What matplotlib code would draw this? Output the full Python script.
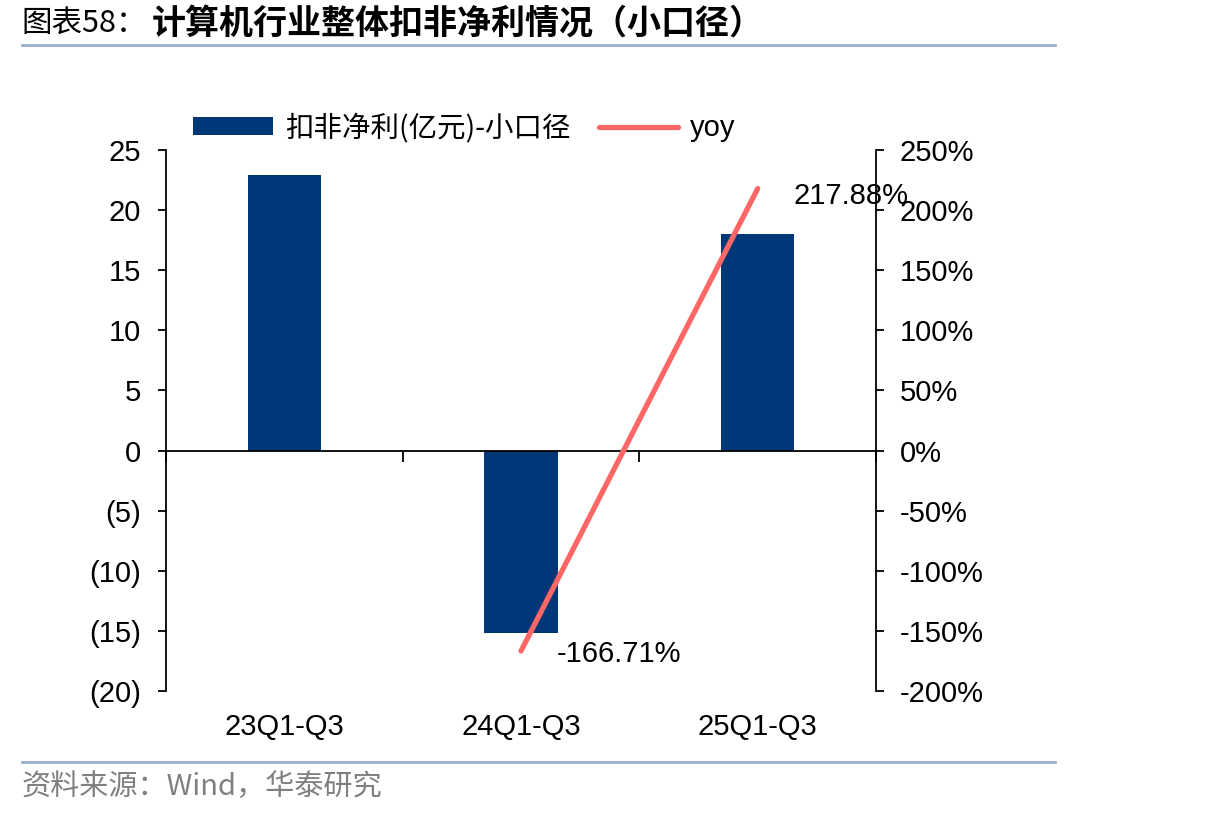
import numpy as np
import matplotlib
matplotlib.use("Agg")
import matplotlib.pyplot as plt
from matplotlib.ticker import FuncFormatter, FixedLocator

plt.rcParams['font.family'] = ['Liberation Sans', 'Noto Sans CJK SC', 'DejaVu Sans']

# ------------------ Datos ------------------
categorias = ['23Q1-Q3', '24Q1-Q3', '25Q1-Q3']
beneficio = [22.9, -15.2, 18.0]          # 扣非净利(亿元)-小口径
yoy = [np.nan, -166.71, 217.88]          # yoy (%)
etiquetas_yoy = ['', '-166.71%', '217.88%']

titulo_pre = '图表58：'
titulo = '计算机行业整体扣非净利情况（小口径）'
fuente = '资料来源：Wind，华泰研究'

color_barra = '#003778'
color_linea = '#FF6666'
cjk = ['Noto Sans CJK SC', 'DejaVu Sans']
fs = 21


def fmt_izq(v, pos):
    v = int(round(v))
    return f'({abs(v)})' if v < 0 else f'{v}'


def fmt_der(v, pos):
    return f'{int(round(v))}%'


fig = plt.figure(figsize=(12.06, 8.16), dpi=100)
ax = fig.add_axes([0.1376, 0.1532, 0.5888, 0.6630])
x = np.arange(len(categorias))

barras = ax.bar(x, beneficio, width=0.31, color=color_barra, zorder=2,
                label='扣非净利(亿元)-小口径')
ax.set_xlim(-0.5, 2.5)
ax.set_ylim(-20, 25)
ax.set_yticks(np.arange(-20, 26, 5))
ax.yaxis.set_major_formatter(FuncFormatter(fmt_izq))

ax.spines['top'].set_visible(False)
ax.spines['right'].set_visible(False)
ax.spines['bottom'].set_position(('data', 0))
ax.spines['left'].set_linewidth(1.3)
ax.spines['bottom'].set_linewidth(1.3)

ax.set_xticks(x)
ax.set_xticklabels([])
ax.xaxis.set_minor_locator(FixedLocator([-0.5, 0.5, 1.5, 2.5]))
ax.tick_params(axis='x', which='major', length=0)
ax.tick_params(axis='x', which='minor', length=8, width=1.3, direction='out')
ax.tick_params(axis='y', length=6, width=1.3, direction='out', labelsize=fs, pad=12)

# etiquetas de categoria debajo del eje
for xi, cat in zip(x, categorias):
    ax.annotate(cat, xy=(xi, -20), xycoords='data', xytext=(0, -26),
                textcoords='offset points', ha='center', va='center', fontsize=fs)

# eje derecho para yoy
ax2 = ax.twinx()
linea, = ax2.plot(x, yoy, color=color_linea, lw=3.8, solid_capstyle='round',
                  zorder=3, label='yoy')
ax2.set_ylim(-200, 250)
ax2.set_yticks(np.arange(-200, 251, 50))
ax2.yaxis.set_major_formatter(FuncFormatter(fmt_der))
for s in ['top', 'left', 'bottom']:
    ax2.spines[s].set_visible(False)
ax2.spines['right'].set_linewidth(1.3)
ax2.tick_params(axis='y', length=6, width=1.3, direction='out', labelsize=fs, pad=11)

ax2.annotate(etiquetas_yoy[2], xy=(x[2], yoy[2]), xytext=(26, -5),
             textcoords='offset points', ha='left', va='center', fontsize=fs)
ax2.annotate(etiquetas_yoy[1], xy=(x[1], yoy[1]), xytext=(26, -2),
             textcoords='offset points', ha='left', va='center', fontsize=fs)

leg = fig.legend([barras, linea], ['扣非净利(亿元)-小口径', 'yoy'],
                 loc='center left', bbox_to_anchor=(0.160, 0.843), ncol=2,
                 frameon=False, handlelength=2.8, handleheight=0.55,
                 columnspacing=1.0, handletextpad=0.42, borderpad=0,
                 borderaxespad=0, prop={'family': cjk, 'size': 20.5})
leg.get_texts()[1].set_family(['Liberation Sans'])
leg.get_texts()[1].set_fontsize(fs)

# titulo, lineas y fuente
fig.text(0.018, 0.972, titulo_pre, family=cjk, fontsize=22, fontweight='light',
         ha='left', va='center')
fig.text(0.126, 0.972, titulo, family=cjk, fontsize=24.5, fontweight='bold',
         ha='left', va='center')
fig.add_artist(plt.Line2D([0.018, 0.875], [0.945, 0.945], color='#9BB0C8', lw=2))
fig.add_artist(plt.Line2D([0.018, 0.875], [0.066, 0.066], color='#9BB0C8', lw=2))
fig.text(0.018, 0.036, fuente, family=cjk, fontsize=21, color='#808080',
         ha='left', va='center')

fig.savefig('out.png', dpi=100)
